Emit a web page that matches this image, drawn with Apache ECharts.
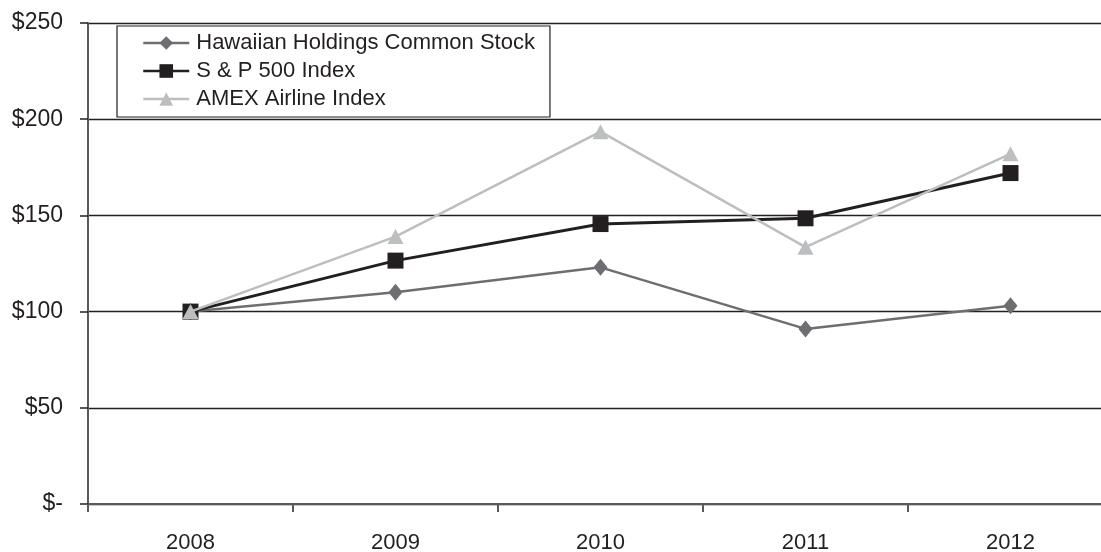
<!DOCTYPE html>
<html>
<head>
<meta charset="utf-8">
<script src="https://cdn.jsdelivr.net/npm/echarts@6/dist/echarts.min.js"></script>
<style>
  html, body { margin: 0; padding: 0; background: #ffffff; }
  #chart { width: 1101px; height: 552px; }
</style>
</head>
<body>
<div id="chart"></div>
<script>
const years = ['2008', '2009', '2010', '2011', '2012'];
const hawaiian = [100, 110, 123, 91, 103];
const sp500 = [100, 126.5, 145.5, 148.5, 172];
const amex = [100, 139, 193.5, 133.5, 182];
const seriesNames = ['Hawaiian Holdings Common Stock', 'S & P 500 Index', 'AMEX Airline Index'];

const chart = echarts.init(document.getElementById('chart'), null, { renderer: 'canvas' });
const font = '"Liberation Sans", Arial, Helvetica, sans-serif';

chart.setOption({
  animation: false,
  backgroundColor: '#ffffff',
  textStyle: { fontFamily: font },
  grid: { left: 88, top: 23, width: 1025, height: 481, containLabel: false, outerBoundsMode: 'none' },
  legend: {
    orient: 'vertical',
    left: 117,
    top: 26,
    padding: [6, 15, 7, 25],
    itemGap: 6,
    itemWidth: 46,
    itemHeight: 17,
    borderColor: '#231f20',
    borderWidth: 1.2,
    backgroundColor: '#ffffff',
    lineStyle: { width: 2.5 },
    textStyle: { fontFamily: font, fontSize: 22, color: '#231f20', padding: [0, 0, 0, 2] },
    data: seriesNames
  },
  xAxis: {
    type: 'category',
    data: years,
    boundaryGap: true,
    axisLine: { show: true, lineStyle: { color: '#58595b', width: 2 } },
    axisTick: { show: true, length: 8, alignWithLabel: false, lineStyle: { color: '#58595b', width: 2 } },
    axisLabel: { fontFamily: font, fontSize: 22, color: '#231f20', margin: 28 },
    splitLine: { show: false }
  },
  yAxis: {
    type: 'value',
    min: 0,
    max: 250,
    interval: 50,
    axisLine: { show: true, lineStyle: { color: '#58595b', width: 2 } },
    axisTick: { show: true, length: 8, lineStyle: { color: '#231f20', width: 1.5 } },
    axisLabel: {
      fontFamily: font, fontSize: 23, color: '#231f20', margin: 25,
      formatter: v => v === 0 ? '$-' : '$' + v
    },
    splitLine: { show: true, lineStyle: { color: '#231f20', width: 1.3 } }
  },
  series: [
    {
      name: seriesNames[0], type: 'line', data: hawaiian,
      symbol: 'diamond', symbolSize: [14, 17], showAllSymbol: true,
      itemStyle: { color: '#6d6e71' },
      lineStyle: { color: '#6d6e71', width: 2.5 },
      z: 2
    },
    {
      name: seriesNames[1], type: 'line', data: sp500,
      symbol: 'rect', symbolSize: 16, showAllSymbol: true,
      itemStyle: { color: '#231f20' },
      lineStyle: { color: '#231f20', width: 3 },
      z: 3
    },
    {
      name: seriesNames[2], type: 'line', data: amex,
      symbol: 'triangle', symbolSize: [16, 15], showAllSymbol: true,
      itemStyle: { color: '#bcbec0' },
      lineStyle: { color: '#bcbec0', width: 2.5 },
      z: 4
    }
  ]
});
</script>
</body>
</html>
